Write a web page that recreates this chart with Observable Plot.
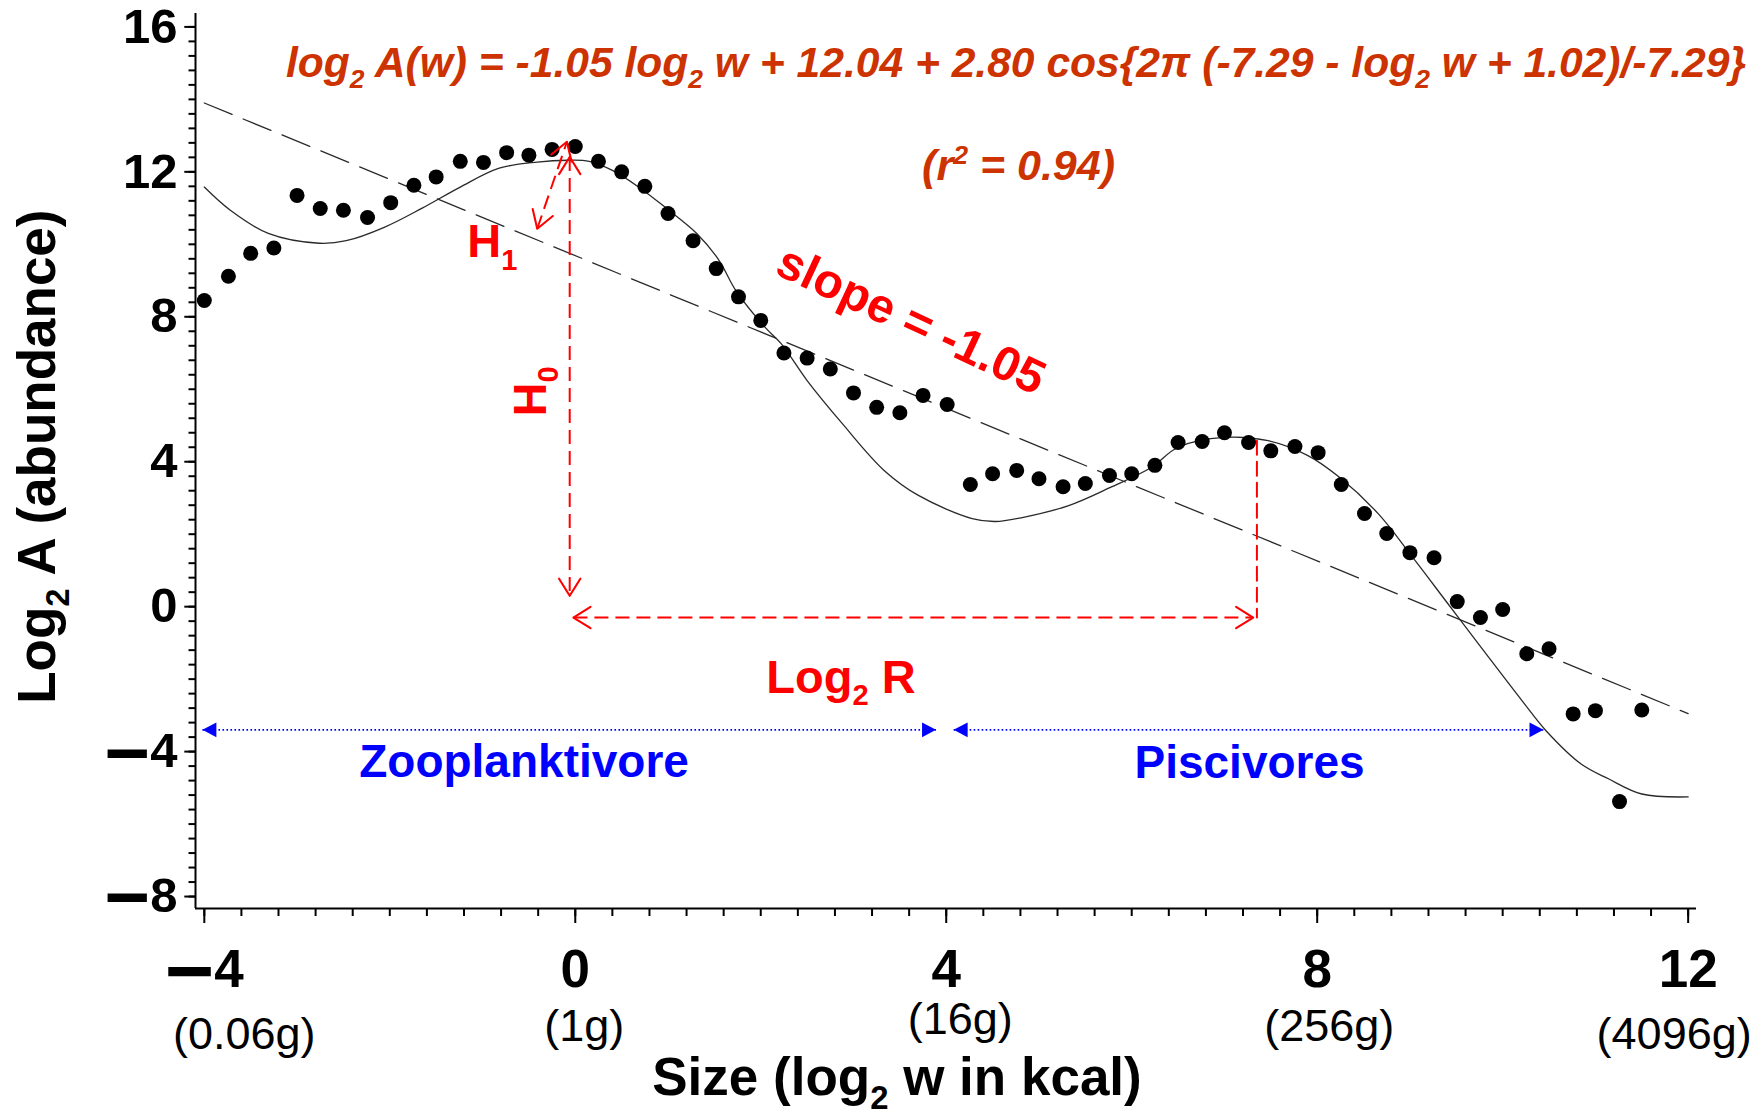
<!DOCTYPE html>
<html><head><meta charset="utf-8">
<script src="https://cdn.jsdelivr.net/npm/d3@7"></script>
<script src="https://cdn.jsdelivr.net/npm/@observablehq/plot@0.6"></script>
<style>body{margin:0;background:#fff} svg{display:block}</style>
</head><body><div id="chart"></div>
<script>
// ---------- data ----------
const obsX = [-4.0,-3.74,-3.5,-3.25,-3.0,-2.75,-2.5,-2.24,-1.99,-1.74,-1.5,-1.24,-0.99,-0.74,-0.5,-0.25,0.0,0.25,0.5,0.75,1.0,1.27,1.52,1.76,2.0,2.25,2.5,2.75,3.0,3.25,3.5,3.75,4.01,4.26,4.5,4.76,5.0,5.26,5.5,5.76,6.0,6.25,6.5,6.76,7.0,7.26,7.5,7.76,8.01,8.26,8.51,8.75,9.0,9.26,9.51,9.76,10.0,10.26,10.5,10.76,11.0,11.26,11.5];
const obsY = [8.45,9.12,9.75,9.9,11.35,10.99,10.94,10.74,11.15,11.63,11.86,12.29,12.26,12.53,12.46,12.62,12.7,12.29,12.0,11.6,10.85,10.1,9.33,8.55,7.9,7.0,6.86,6.56,5.9,5.5,5.35,5.83,5.58,3.37,3.67,3.76,3.53,3.31,3.4,3.62,3.67,3.9,4.53,4.56,4.8,4.53,4.3,4.42,4.25,3.37,2.57,2.02,1.49,1.35,0.14,-0.3,-0.08,-1.3,-1.16,-2.96,-2.87,-5.38,-2.85];

const fitX = [-4,-3.72,-3.31,-2.76,-2.47,-2.06,-1.65,-1.24,-0.82,-0.41,-0.08,0.15,0.4,0.69,0.98,1.31,1.55,1.73,2.05,2.22,2.5,2.88,3.33,3.7,4.28,4.53,4.82,5.32,5.77,6.21,6.5,7.0,7.47,7.9,8.24,8.66,9.03,9.41,9.79,10.21,10.47,10.85,11.14,11.5,12.0];
const fitY = [11.58,10.94,10.3,10.03,10.1,10.47,11.0,11.58,12.1,12.27,12.32,12.29,12.04,11.57,11.0,10.3,9.56,8.73,7.7,7.26,6.24,5.05,3.76,3.07,2.43,2.35,2.46,2.79,3.29,3.84,4.4,4.67,4.58,4.17,3.57,2.56,1.36,0.08,-1.2,-2.6,-3.43,-4.35,-4.75,-5.17,-5.25];

const trendX = [-4, 12];
const trendY = [13.9, -2.95];

// red annotation arrows (double-headed): H1, H0, Log2 R
const arrowX1 = [-0.41, -0.06, -0.02];
const arrowY1 = [10.43, 12.41, -0.3];
const arrowX2 = [-0.09, -0.06, 7.31];
const arrowY2 = [12.83, 0.3, -0.3];
// red plain dashed drop line at second peak
const dropX = [7.35, 7.35];
const dropY = [4.58, -0.3];

// blue feeding-group ranges
const groupNames = ["Zooplanktivore", "Piscivores"];
const groupFrom = [-4.02, 4.08];
const groupTo = [3.89, 10.44];
const groupLevel = -3.4;

const majorX = [-4, 0, 4, 8, 12];
const majorY = [-8, -4, 0, 4, 8, 12, 16];
const minorX = d3.range(0, 41).map(i => -4 + i * 0.4);
const minorY = d3.range(0, 61).map(i => -8 + i * 0.4);
const sizeLabels = ["(0.06g)", "(1g)", "(16g)", "(256g)", "(4096g)"];

const formula = "log_{2} A(w) = -1.05 log_{2} w + 12.04 + 2.80 cos{2π (-7.29 - log_{2} w + 1.02)/-7.29}";
const rsq = "(r^{2} = 0.94)";

// ---------- layout / style ----------
const W = 1763, H = 1115;
const xDomain = [-4.095, 12.09], yDomain = [-8.33, 16.37];
const RED = "#ff0000", BLUE = "#0000ff", ORANGE = "#cc3300", INK = "#2a2a2a";
const FONT = "Liberation Sans, Arial, Helvetica, sans-serif";
const sizeDx = [40, 9, 14, 12, -14];
const sizeDy = [140, 132, 125, 132, 140];

const obs = obsX.map((x, i) => ({x, y: obsY[i]}));
const fit = fitX.map((x, i) => ({x, y: fitY[i]}));
const trend = trendX.map((x, i) => ({x, y: trendY[i]}));
const arrows = arrowX1.map((x1, i) => ({x1, y1: arrowY1[i], x2: arrowX2[i], y2: arrowY2[i]}));
const drop = dropX.map((x, i) => ({x, y: dropY[i]}));
const groups = groupNames.map((name, i) => ({name, x1: groupFrom[i], x2: groupTo[i], y: groupLevel}));
const fmtTick = d => d < 0 ? "\u2212" + Math.abs(d) : String(d);

const sizeMarks = sizeLabels.map((t, i) => Plot.text([t], {
  x: () => majorX[i], frameAnchor: "bottom", lineAnchor: "bottom", text: d => d,
  dx: sizeDx[i], dy: sizeDy[i], fontSize: 45, fill: "black", textAnchor: "middle"
}));

const chart = Plot.plot({
  width: W, height: H,
  marginLeft: 195, marginRight: 67, marginTop: 13, marginBottom: 207,
  x: {domain: xDomain, label: null},
  y: {domain: yDomain, label: null},
  style: {fontFamily: FONT, background: "white", color: "black"},
  marks: [
    // axes
    Plot.axisX(minorX, {tickSize: 8, strokeWidth: 2, tickFormat: () => "", label: null}),
    Plot.axisX(majorX, {tickSize: 15, strokeWidth: 2, tickPadding: 26, tickFormat: fmtTick,
      fontSize: 53, fontWeight: "bold", label: null}),
    Plot.axisY(minorY, {tickSize: 6.5, strokeWidth: 2, tickFormat: () => "", label: null}),
    Plot.axisY(majorY, {tickSize: 10.7, strokeWidth: 2, tickPadding: 7.3, tickFormat: fmtTick,
      fontSize: 49, fontWeight: "bold", label: null}),
    Plot.ruleX([xDomain[0]], {stroke: "black", strokeWidth: 2}),
    Plot.ruleY([yDomain[0]], {stroke: "black", strokeWidth: 2}),
    ...sizeMarks,
    Plot.text(["Size (log_{2} w in kcal)"], {x: 0.83, y: -13.47, text: d => d, textAnchor: "start",
      lineAnchor: "bottom", fontSize: 53, fontWeight: "bold", fill: "black"}),
    Plot.text(["Log_{2} A (abundance)"], {x: -5.607, y: -2.68, text: d => d, textAnchor: "start",
      lineAnchor: "bottom", rotate: -90, fontSize: 53, fontWeight: "bold", fill: "black"}),

    // trend + fit + observations
    Plot.line(trend, {x: "x", y: "y", stroke: INK, strokeWidth: 1.3, strokeDasharray: "30,12"}),
    Plot.line(fit, {x: "x", y: "y", stroke: INK, strokeWidth: 1.3, curve: "catmull-rom"}),
    Plot.dot(obs, {x: "x", y: "y", r: 7.5, fill: "black", stroke: "none"}),

    // red annotations
    Plot.link(arrows, {x1: "x1", y1: "y1", x2: "x2", y2: "y2", stroke: RED, strokeWidth: 2,
      strokeDasharray: "14,7", markerStart: "arrow-reverse", markerEnd: "arrow"}),
    Plot.line(drop, {x: "x", y: "y", stroke: RED, strokeWidth: 2, strokeDasharray: "14,7"}),
    Plot.text(["H_{1}"], {x: -1.165, y: 9.64, text: d => d, textAnchor: "start", lineAnchor: "bottom",
      fontSize: 47, fontWeight: "bold", fill: RED}),
    Plot.text(["H_{0}"], {x: -0.313, y: 5.25, text: d => d, textAnchor: "start", lineAnchor: "bottom",
      rotate: -90, fontSize: 47, fontWeight: "bold", fill: RED}),
    Plot.text(["Log_{2} R"], {x: 2.06, y: -2.38, text: d => d, textAnchor: "start", lineAnchor: "bottom",
      fontSize: 47, fontWeight: "bold", fill: RED}),
    Plot.text(["slope = -1.05"], {x: 3.62, y: 7.9, text: d => d, rotate: 25, textAnchor: "middle",
      lineAnchor: "middle", fontSize: 48, fontWeight: "bold", fill: RED}),

    // blue feeding groups
    Plot.link(groups, {x1: "x1", y1: "y", x2: "x2", y2: "y", stroke: BLUE, strokeWidth: 1.6,
      strokeDasharray: "1.6,2.4", markerStart: "arrow-reverse", markerEnd: "arrow"}),
    Plot.text(["Zooplanktivore"], {x: -2.33, y: -4.70, text: d => d, textAnchor: "start", lineAnchor: "bottom",
      fontSize: 46, fontWeight: "bold", fill: BLUE}),
    Plot.text(["Piscivores"], {x: 6.03, y: -4.74, text: d => d, textAnchor: "start", lineAnchor: "bottom",
      fontSize: 46, fontWeight: "bold", fill: BLUE}),

    // fitted equation
    Plot.text([formula], {x: -3.12, y: 14.62, text: d => d, textAnchor: "start", lineAnchor: "bottom",
      fontSize: 42.6, fontWeight: "bold", fontStyle: "italic", fill: ORANGE}),
    Plot.text([rsq], {x: 4.78, y: 11.77, text: d => d, textAnchor: "middle", lineAnchor: "bottom",
      fontSize: 43, fontWeight: "bold", fontStyle: "italic", fill: ORANGE})
  ]
});

document.getElementById("chart").appendChild(chart);

const NS = "http://www.w3.org/2000/svg";
// sub/superscripts as real tspans
chart.querySelectorAll("text").forEach(t => {
  const s = t.textContent;
  if (!/[_^]\{/.test(s)) return;
  const fs = parseFloat(getComputedStyle(t).fontSize);
  while (t.firstChild) t.removeChild(t.firstChild);
  const re = /([_^])\{([^}]*)\}/g;
  let last = 0, m; const parts = [];
  while ((m = re.exec(s))) {
    if (m.index > last) parts.push({text: s.slice(last, m.index), k: ""});
    parts.push({text: m[2], k: m[1]});
    last = re.lastIndex;
  }
  if (last < s.length) parts.push({text: s.slice(last), k: ""});
  let cur = 0;
  for (const p of parts) {
    const ts = document.createElementNS(NS, "tspan");
    const target = p.k === "_" ? 0.26 * fs : p.k === "^" ? -0.38 * fs : 0;
    if (target - cur) ts.setAttribute("dy", target - cur);
    cur = target;
    if (p.k) ts.setAttribute("font-size", 0.62 * fs);
    ts.textContent = p.text;
    t.appendChild(ts);
  }
});

// heavy, long minus bars on negative tick labels (as in the original)
chart.querySelectorAll("text").forEach(t => {
  const s = t.textContent;
  if (s.length < 2 || s[0] !== "\u2212" || !/^\u2212\d+$/.test(s)) return;
  const fs = parseFloat(getComputedStyle(t).fontSize);
  while (t.firstChild) t.removeChild(t.firstChild);
  const a = document.createElementNS(NS, "tspan");
  a.setAttribute("font-size", 1.6 * fs);
  a.setAttribute("dy", 0.25 * fs);
  a.textContent = "\u2212";
  const b = document.createElementNS(NS, "tspan");
  b.setAttribute("dy", -0.25 * fs);
  b.textContent = s.slice(1);
  t.appendChild(a); t.appendChild(b);
});

// arrowheads: larger open chevrons (red) and filled triangles (blue)
chart.querySelectorAll("marker").forEach(mk => {
  const g = mk.parentNode;
  const color = (g.getAttribute("stroke") || mk.getAttribute("stroke") || "").toLowerCase();
  const path = mk.querySelector("path");
  mk.setAttribute("markerUnits", "userSpaceOnUse");
  path.setAttribute("stroke-dasharray", "none");
  if (color === BLUE) {
    mk.setAttribute("markerWidth", 31); mk.setAttribute("markerHeight", 31);
    path.setAttribute("d", "M-4.5,-2.4L0,0L-4.5,2.4Z");
    path.setAttribute("fill", BLUE); path.setAttribute("stroke", "none");
  } else {
    mk.setAttribute("markerWidth", 38); mk.setAttribute("markerHeight", 38);
    path.setAttribute("d", "M-4.5,-2.8L0,0L-4.5,2.8");
    mk.setAttribute("stroke-width", 0.55);
  }
});
</script>
</body></html>
